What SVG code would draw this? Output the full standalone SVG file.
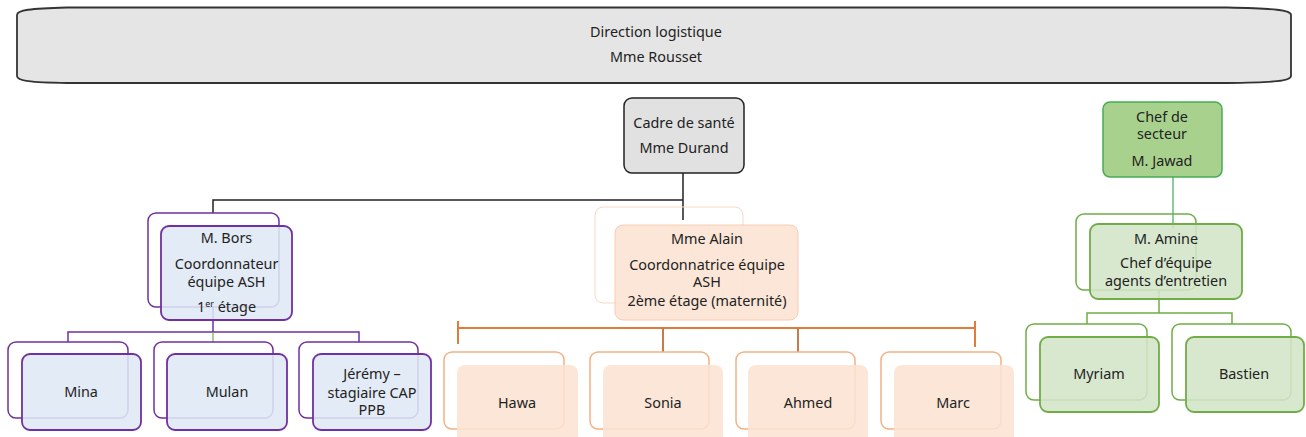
<svg xmlns="http://www.w3.org/2000/svg" width="1306" height="437" viewBox="0 0 1306 437">
<style>
text{font-family:"Noto Sans","Liberation Sans",sans-serif;font-size:14.4px;fill:#222;text-anchor:middle}
.pb{fill:none;stroke:#7030a0;stroke-width:1.5}
.pf{fill:#dee8f5;fill-opacity:0.88;stroke:#7030a0;stroke-width:1.8}
.ob{fill:none;stroke:#f2b184;stroke-width:1.5}
.of{fill:#fae2d2;fill-opacity:0.88;stroke:none}
.gb{fill:none;stroke:#70ad47;stroke-width:1.5}
.gf{fill:#d3e5c8;fill-opacity:0.88;stroke:#70ad47;stroke-width:1.8}
.lk{fill:none;stroke:#222;stroke-width:1.5}
.lp{fill:none;stroke:#7030a0;stroke-width:1.5}
.lo{fill:none;stroke:#e07b39;stroke-width:2}
.lo2{fill:none;stroke:#c77b4a;stroke-width:2}
.lg{fill:none;stroke:#70ad47;stroke-width:1.5}
</style>
<rect width="1306" height="437" fill="#ffffff"/>
<g id="connectors">
<path class="lk" d="M683,173 V200 M683,200 H213 V213 M683,200 V220"/>
<path class="lp" d="M213,307 V332 M68,342 V332 H359 V342"/>
<path d="M213,332 V342" fill="none" stroke="#70ad47" stroke-width="1.2"/>
<path class="lo" d="M458,328 H975 M458,321 V344 M975,321 V347"/>
<path class="lo2" d="M663,328 V352 M798,328 V352"/>
<path d="M1173,177 V228" fill="none" stroke="#3daa5c" stroke-width="1.2"/>
<path class="lg" d="M1159,290 V313 M1087,324 V313 H1232 V324"/>
</g>
<g id="direction">
<path d="M67,7.5 H1227 C1275,8.5 1291,10 1291,15 V76 C1291,81 1275,82.5 1227,83 H67 C30,82.5 17,81 17,76 V15 C17,10 30,8.5 67,7.5 Z" fill="#e5e5e5" stroke="#333" stroke-width="1.8"/>
<text x="656" y="37">Direction logistique</text>
<text x="656" y="62">Mme Rousset</text>
</g>
<g id="cadre">
<rect x="624" y="98" width="120" height="75" rx="8" fill="#e1e1e1" stroke="#222" stroke-width="1.5"/>
<text x="684" y="128">Cadre de santé</text>
<text x="684" y="153">Mme Durand</text>
</g>
<g id="chef-secteur">
<rect x="1103" y="102" width="119" height="75" rx="7" fill="#a9d18e" stroke="#45ad56" stroke-width="1.5"/>
<text x="1162" y="122">Chef de</text>
<text x="1162" y="139">secteur</text>
<text x="1162" y="166">M. Jawad</text>
</g>
<g id="bors">
<rect class="pb" x="148" y="213" width="131" height="94" rx="8"/>
<rect class="pf" x="161" y="226" width="131" height="94" rx="8"/>
<text x="226.5" y="243">M. Bors</text>
<text x="226.5" y="269">Coordonnateur</text>
<text x="226.5" y="287">équipe ASH</text>
<text x="226.5" y="312">1<tspan font-size="9" dy="-5">er</tspan><tspan dy="5"> étage</tspan></text>
</g>
<g id="alain">
<rect x="595" y="207" width="148" height="96" rx="8" fill="none" stroke="#f8d8c3" stroke-width="1"/>
<rect x="615" y="225" width="183" height="95" rx="8" fill="#fbe4d5" fill-opacity="0.92" stroke="#f6cdb2" stroke-width="1"/>
<text x="707" y="244">Mme Alain</text>
<text x="707" y="270">Coordonnatrice équipe</text>
<text x="707" y="287">ASH</text>
<text x="707" y="306">2ème étage (maternité)</text>
</g>
<g id="amine">
<rect class="gb" x="1076" y="214" width="120" height="76" rx="8"/>
<rect class="gf" x="1090" y="224" width="152" height="75" rx="8"/>
<text x="1166" y="244">M. Amine</text>
<text x="1166" y="268">Chef d’équipe</text>
<text x="1166" y="286">agents d’entretien</text>
</g>
<g id="mina">
<rect class="pb" x="8" y="342" width="120" height="76" rx="8"/>
<rect class="pf" x="22" y="354" width="119" height="76" rx="8"/>
<text x="81" y="397">Mina</text>
</g>
<g id="mulan">
<rect class="pb" x="154" y="342" width="119" height="76" rx="8"/>
<rect class="pf" x="167" y="354" width="120" height="76" rx="8"/>
<text x="227" y="397">Mulan</text>
</g>
<g id="jeremy">
<rect class="pb" x="299" y="342" width="119" height="76" rx="8"/>
<rect class="pf" x="313" y="354" width="118" height="76" rx="8"/>
<text x="372" y="379">Jérémy –</text>
<text x="372" y="398">stagiaire CAP</text>
<text x="372" y="415">PPB</text>
</g>
<g id="hawa">
<rect class="ob" x="444" y="352" width="120" height="77" rx="8"/>
<rect class="of" x="457" y="365" width="121" height="80" rx="8"/>
<text x="517" y="408">Hawa</text>
</g>
<g id="sonia">
<rect class="ob" x="590" y="352" width="119" height="77" rx="8"/>
<rect class="of" x="603" y="365" width="120" height="80" rx="8"/>
<text x="663" y="408">Sonia</text>
</g>
<g id="ahmed">
<rect class="ob" x="736" y="352" width="119" height="77" rx="8"/>
<rect class="of" x="748" y="365" width="120" height="80" rx="8"/>
<text x="808" y="408">Ahmed</text>
</g>
<g id="marc">
<rect class="ob" x="881" y="352" width="120" height="77" rx="8"/>
<rect class="of" x="894" y="365" width="120" height="80" rx="8"/>
<text x="953" y="408">Marc</text>
</g>
<g id="myriam">
<rect class="gb" x="1026" y="324" width="121" height="76" rx="8"/>
<rect class="gf" x="1040" y="337" width="119" height="75" rx="8"/>
<text x="1099" y="379">Myriam</text>
</g>
<g id="bastien">
<rect class="gb" x="1172" y="324" width="119" height="76" rx="8"/>
<rect class="gf" x="1186" y="337" width="118" height="75" rx="8"/>
<text x="1244" y="379">Bastien</text>
</g>
</svg>
